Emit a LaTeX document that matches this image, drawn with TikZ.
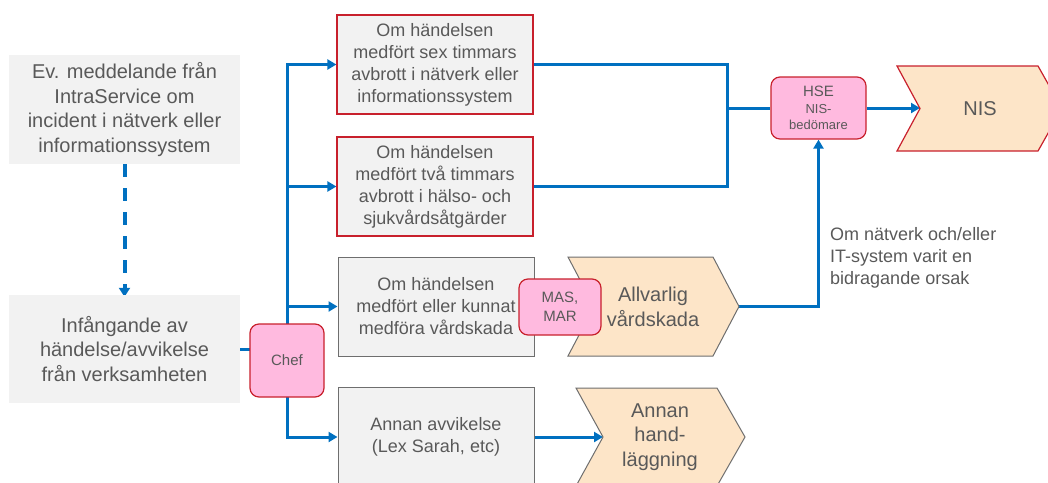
\documentclass[tikz,border=0pt]{standalone}
\usepackage{fontspec}
\setmainfont{Liberation Sans}
\usetikzlibrary{arrows.meta}
\definecolor{flowblue}{HTML}{0070C0}
\definecolor{textgray}{HTML}{595959}
\definecolor{boxgray}{HTML}{F2F2F2}
\definecolor{bordergray}{HTML}{6E6E6E}
\definecolor{bordered}{HTML}{C8202C}
\definecolor{pinkfill}{HTML}{FFBADF}
\definecolor{peach}{HTML}{FDE5C8}
\pgfdeclarelayer{bg}
\pgfsetlayers{bg,main}
\begin{document}
\begin{tikzpicture}[x=1pt,y=-1pt,
  txt/.style={text=textgray, align=center, inner sep=0pt},
  fbig/.style={font=\fontsize{20}{24.5}\selectfont},
  fmid/.style={font=\fontsize{18}{22}\selectfont},
  inbox/.style={fill=boxgray, draw=none, minimum width=231pt, text=textgray, align=center, inner sep=0pt, fbig},
  condred/.style={fill=boxgray, draw=bordered, line width=1.2pt, minimum width=196pt, minimum height=99pt, text=textgray, align=center, inner sep=0pt, fmid},
  condgray/.style={fill=boxgray, draw=bordergray, line width=1pt, minimum width=196pt, minimum height=99pt, text=textgray, align=center, inner sep=0pt, fmid},
  role/.style={fill=pinkfill, draw=bordered, line width=1.2pt, rounded corners=9pt, text=textgray, align=center, inner sep=0pt},
  chevgray/.style={fill=peach, draw=bordergray, line width=1pt, line join=miter},
  chevred/.style={fill=peach, draw=bordered, line width=1.2pt, line join=miter},
  flow/.style={draw=flowblue, line width=3pt},
  arr/.style={flow, -{Triangle[length=9pt,width=10pt]}},
  dasharr/.style={draw=flowblue, line width=4pt, dash pattern=on 13pt off 11pt, -{Triangle[length=9pt,width=11pt]}}
]
\useasboundingbox (0,0) rectangle (1048,482);
\clip (0,0) rectangle (1048,482);

% left boxes
\node[inbox, minimum height=109pt] (msg) at (124.5,109.5) {Ev. meddelande från\\IntraService om\\incident i nätverk eller\\informationssystem};
\node[inbox, minimum height=108pt] (cap) at (124.5,349) {Infångande av\\händelse/avvikelse\\från verksamheten};

% condition boxes
\node[condred] (b1) at (435,64.5) {Om händelsen\\medfört sex timmars\\avbrott i nätverk eller\\informationssystem};
\node[condred] (b2) at (435,186.5) {Om händelsen\\medfört två timmars\\avbrott i hälso- och\\sjukvårdsåtgärder};
\node[condgray] (b3) at (436,306.5) {Om händelsen\\medfört eller kunnat\\medföra vårdskada};
\node[condgray, minimum height=100pt] (b4) at (436,437) {Annan avvikelse\\(Lex Sarah, etc)};

% chevrons
\draw[chevgray] (568,257) -- (713,257) -- (739,306.5) -- (713,356) -- (568,356) -- (594,306.5) -- cycle;
\coordinate (c1tip) at (739,306.5);
\node[txt, fbig] (allv) at (653,307) {Allvarlig\\vårdskada};

\draw[chevgray] (576,388) -- (717,388) -- (745,437) -- (717,486) -- (576,486) -- (603,437) -- cycle;
\coordinate (c2notch) at (603,437);
\node[txt, fbig] (annan) at (660,437) {Annan\\hand-\\läggning};

\draw[chevred] (897,66) -- (1038,66) -- (1062,108.5) -- (1038,151) -- (897,151) -- (920,108.5) -- cycle;
\coordinate (nisnotch) at (920,108);
\node[txt, font=\fontsize{20}{24}\selectfont] (nis) at (980,109) {NIS};

% role nodes
\node[role, minimum width=74pt, minimum height=73pt, font=\fontsize{15}{18}\selectfont] (chef) at (287,360.5) {Chef};
\node[role, minimum width=82pt, minimum height=56pt, font=\fontsize{15}{19}\selectfont] (mas) at (560,307) {MAS,\\MAR};
\node[role, minimum width=95pt, minimum height=62pt, font=\fontsize{13}{16.5}\selectfont] (hse) at (818.5,108) {{\fontsize{15}{16.5}\selectfont HSE}\\NIS-\\bedömare};

% side label
\node[text=textgray, align=left, inner sep=0pt, anchor=west, fmid] (why) at (830,258) {Om nätverk och/eller\\IT-system varit en\\bidragande orsak};

\coordinate (jx) at (727,108);

\begin{pgfonlayer}{bg}
\draw[dasharr] (msg.south) -- ([yshift=-2pt]cap.north);
\draw[flow] (cap.east) -- (cap.east -| chef.center);
\draw[arr] (chef.center) |- (b1.west);
\draw[arr] (chef.center) |- (b2.west);
\draw[arr] (chef.center) |- (b3.west);
\draw[arr] (chef.center) |- (b4.west);
\draw[flow] (b1.east) -| (jx) |- (b2.east);
\draw[flow] (jx) -- (hse.west);
\draw[arr] (hse.east) -- (nisnotch);
\draw[arr] (c1tip) -| (hse.south);
\draw[arr] (b4.east) -- (c2notch);
\end{pgfonlayer}
\end{tikzpicture}
\end{document}
